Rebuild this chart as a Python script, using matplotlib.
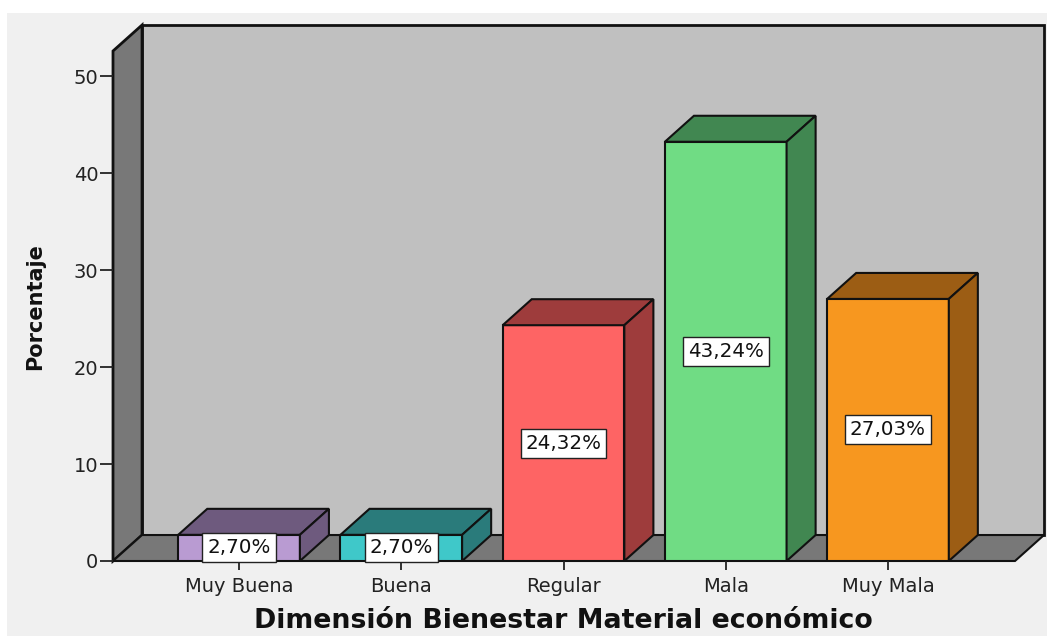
import matplotlib.pyplot as plt
from matplotlib.patches import Polygon, Rectangle

categorias = ['Muy Buena', 'Buena', 'Regular', 'Mala', 'Muy Mala']
porcentajes = [2.70, 2.70, 24.32, 43.24, 27.03]
etiquetas = ['2,70%', '2,70%', '24,32%', '43,24%', '27,03%']
y_ticks = [0, 10, 20, 30, 40, 50]

color_frente = ['#b99bd2', '#3fc8c9', '#fe6464', '#70dc84', '#f7971f']
color_lado = ['#6e5a7e', '#2a7b7b', '#9e3c3c', '#418751', '#9c5d14']

plt.rcParams['font.family'] = ['DejaVu Sans']

fig = plt.figure(figsize=(10.55, 6.36), dpi=100, facecolor='white')
fig.patches.append(Rectangle((7 / 1055, 0), 1040 / 1055, 623 / 636,
                             transform=fig.transFigure, facecolor='#f0f0f0',
                             edgecolor='none', zorder=-10))

ax = fig.add_axes([113 / 1055, 75 / 636, 902 / 1055, 510 / 636])
ax.set_facecolor('none')
for s in ax.spines.values():
    s.set_visible(False)

x0, x1 = -0.777, 4.783
y_top = 52.6
ax.set_xlim(x0, x1)
ax.set_ylim(0, y_top)

# profundidad del efecto 3D (en unidades de datos)
dx, dy = 0.179, 2.68
ancho = 0.75

# paredes y suelo
ax.add_patch(Rectangle((x0 + dx, dy), x1 - x0, y_top, facecolor='#c0c0c0',
                       edgecolor='#111111', lw=2, clip_on=False, zorder=0))
ax.add_patch(Polygon([(x0, 0), (x0 + dx, dy), (x0 + dx, y_top + dy), (x0, y_top)],
                     closed=True, facecolor='#787878', edgecolor='#111111',
                     lw=2, clip_on=False, zorder=1))
ax.add_patch(Polygon([(x0, 0), (x1, 0), (x1 + dx, dy), (x0 + dx, dy)],
                     closed=True, facecolor='#787878', edgecolor='#111111',
                     lw=1.5, clip_on=False, zorder=1))

# barras
pos = list(range(len(categorias)))
ax.bar(pos, porcentajes, width=ancho, color=color_frente, edgecolor='#111111',
       lw=1.5, zorder=3)
for i, v in enumerate(porcentajes):
    a, b = i - ancho / 2, i + ancho / 2
    ax.add_patch(Polygon([(a, v), (b, v), (b + dx, v + dy), (a + dx, v + dy)],
                         closed=True, facecolor=color_lado[i], edgecolor='#111111',
                         lw=1.5, clip_on=False, zorder=3))
    ax.add_patch(Polygon([(b, 0), (b + dx, dy), (b + dx, v + dy), (b, v)],
                         closed=True, facecolor=color_lado[i], edgecolor='#111111',
                         lw=1.5, clip_on=False, zorder=3))
    ax.text(i, v / 2, etiquetas[i], ha='center', va='center', fontsize=14.3,
            color='#111111', zorder=6,
            bbox=dict(boxstyle='square,pad=0.25', facecolor='white',
                      edgecolor='#222222', lw=1))

ax.set_yticks(y_ticks)
ax.set_xticks(pos)
ax.set_xticklabels(categorias)
ax.tick_params(axis='y', length=9.5, width=1.3, color='#222222', pad=1,
               labelsize=14, labelcolor='#222222')
ax.tick_params(axis='x', length=6.5, width=1.3, color='#222222', pad=5,
               labelsize=14, labelcolor='#222222')

fig.text(563 / 1055, 1 - 621 / 636, 'Dimensión Bienestar Material económico',
         ha='center', va='center', fontsize=19.3, fontweight='bold', color='#111111')
fig.text(35 / 1055, 1 - 307 / 636, 'Porcentaje', ha='center', va='center',
         rotation=90, fontsize=15, fontweight='bold', color='#111111')

fig.savefig('out.png', dpi=100, facecolor=fig.get_facecolor())
